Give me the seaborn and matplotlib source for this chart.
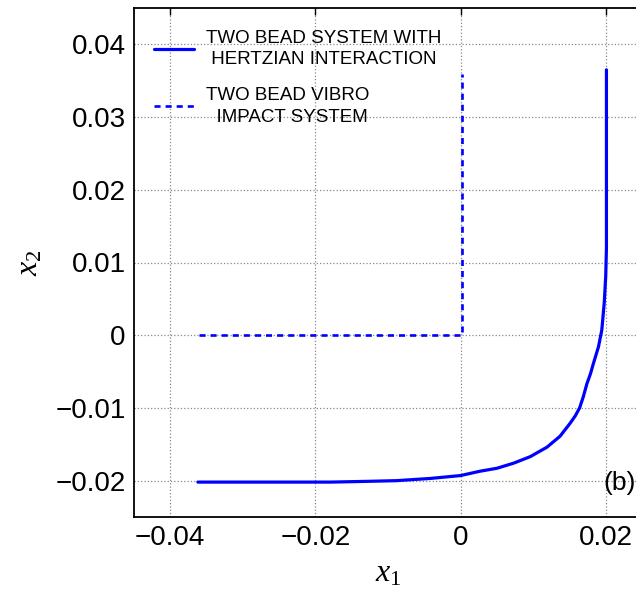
import numpy as np
import pandas as pd
import matplotlib
matplotlib.use("Agg")
import matplotlib.pyplot as plt
import seaborn as sns

# Data
hertz_x = [-0.0362, -0.0300, -0.0240, -0.0179, -0.0130, -0.0088, -0.0042, 0.0000,
           0.0027, 0.0050, 0.0073, 0.0096, 0.0119, 0.0137, 0.0151, 0.0158, 0.0164,
           0.0169, 0.0174, 0.0179, 0.0183, 0.0190, 0.01946, 0.0198, 0.0200,
           0.0201, 0.0201, 0.0201]
hertz_y = [-0.0202, -0.0202, -0.0202, -0.0202, -0.0201, -0.0200, -0.0197, -0.0193,
           -0.0187, -0.0183, -0.0176, -0.0167, -0.0154, -0.0139, -0.0121, -0.0111, -0.0100,
           -0.0085, -0.0067, -0.0053, -0.0039, -0.0016, 0.0007, 0.0045, 0.0081,
           0.0120, 0.0250, 0.0365]

vibro_x = [-0.0361, 0.00025, 0.00025]
vibro_y = [0.0, 0.0, 0.0359]

label_hertz = "TWO BEAD SYSTEM WITH\n HERTZIAN INTERACTION"
label_vibro = "TWO BEAD VIBRO\n  IMPACT SYSTEM"

xticks = [-0.04, -0.02, 0, 0.02]
xtick_labels = ["\u22120.04", "\u22120.02", "0", "0.02"]
yticks = [-0.02, -0.01, 0, 0.01, 0.02, 0.03, 0.04]
ytick_labels = ["\u22120.02", "\u22120.01", "0", "0.01", "0.02", "0.03", "0.04"]

sns.set_theme(style="white")
plt.rcParams["font.family"] = ["Liberation Sans", "DejaVu Sans"]
plt.rcParams["mathtext.fontset"] = "custom"
plt.rcParams["mathtext.rm"] = "Liberation Serif"
plt.rcParams["mathtext.it"] = "Liberation Serif:italic"
plt.rcParams["text.color"] = "black"
plt.rcParams["axes.labelcolor"] = "black"

fig = plt.figure(figsize=(6.36, 5.92), dpi=100)
ax = fig.add_axes([134 / 636, 75 / 592, 508 / 636, 509 / 592])

df_h = pd.DataFrame({"x1": hertz_x, "x2": hertz_y})
df_v = pd.DataFrame({"x1": vibro_x, "x2": vibro_y})

sns.lineplot(data=df_h, x="x1", y="x2", sort=False, estimator=None, ax=ax,
             color=(0, 0, 1), linewidth=2.3, label=label_hertz)
sns.lineplot(data=df_v, x="x1", y="x2", sort=False, estimator=None, ax=ax,
             color=(0, 0, 1), linewidth=1.9, label=label_vibro)
ax.lines[0].set_solid_joinstyle("round")
ax.lines[1].set_dashes((2.3, 1.9))

ax.set_xlim(-0.045, 0.025)
ax.set_ylim(-0.025, 0.045)
ax.set_xticks(xticks)
ax.set_xticklabels(xtick_labels)
ax.set_yticks(yticks)
ax.set_yticklabels(ytick_labels)

ax.grid(True, linestyle=":", color="#888888", linewidth=0.9)
ax.tick_params(direction="in", top=True, right=False, length=5, width=1,
               labelsize=20, pad=6, colors="black")
for s in ax.spines.values():
    s.set_color("black")
    s.set_linewidth(1.3)
ax.spines["right"].set_visible(False)

ax.set_xlabel(r"$x_{\mathit{1}}$", fontsize=23, labelpad=5, color="black")
ax.set_ylabel(r"$x_{\mathit{2}}$", fontsize=23, labelpad=8, color="black")

ax.text(0.0197, -0.0203, "(b)", fontsize=19, ha="left", va="center", color="black")

leg = ax.legend(loc="upper left", bbox_to_anchor=(0.025, 0.972), frameon=False,
                fontsize=13.5, handlelength=2.1, handletextpad=0.65,
                labelspacing=1.0, borderaxespad=0, labelcolor="black")
for t in leg.get_texts():
    t.set_linespacing(1.35)

fig.savefig("out.png", dpi=100)
